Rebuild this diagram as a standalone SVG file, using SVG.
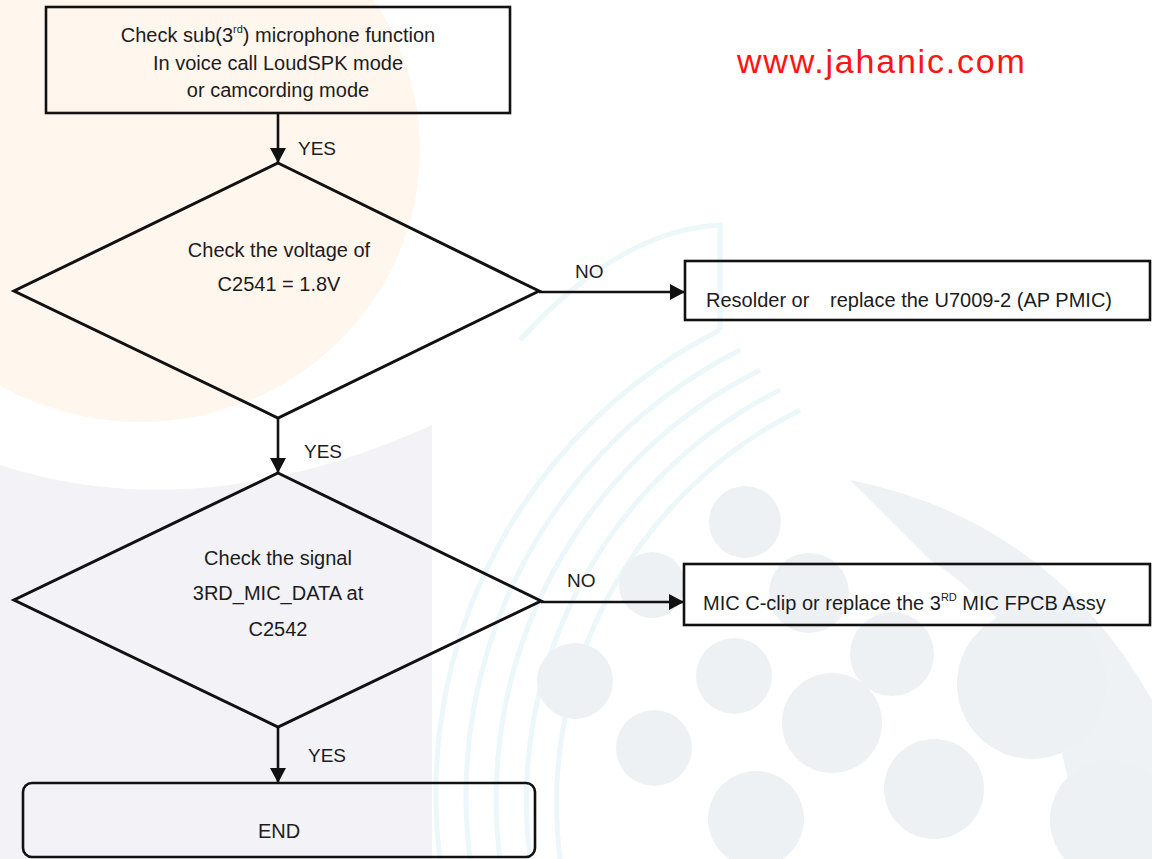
<svg xmlns="http://www.w3.org/2000/svg" width="1152" height="859" viewBox="0 0 1152 859">
  <defs>
    <marker id="arrow" markerUnits="userSpaceOnUse" markerWidth="16" markerHeight="16" refX="15" refY="8" orient="auto">
      <path d="M0,0 L15,8 L0,16 Z" fill="#111"/>
    </marker>
    <style>
      .node { fill: none; stroke: #111; stroke-width: 2.6; }
      .diamond { fill: none; stroke: #111; stroke-width: 3; stroke-linejoin: miter; }
      .conn { fill: none; stroke: #111; stroke-width: 2.6; }
      .t { font-family: "Liberation Sans", Arial, sans-serif; font-size: 20px; fill: #1c1c1c; }
      .c { text-anchor: middle; }
      .lbl { font-family: "Liberation Sans", Arial, sans-serif; font-size: 19px; fill: #1c1c1c; }
      .sup { font-size: 11px; }
      .wm { font-family: "Liberation Sans", Arial, sans-serif; font-size: 34px; fill: #ff1414; letter-spacing: 1.8px; }
      .arc { fill: none; stroke: #ecf7fa; stroke-width: 5; }
      .dot { fill: #edf1f4; }
    </style>
  </defs>

  <rect width="1152" height="859" fill="#ffffff"/>

  <g id="background">
    <ellipse cx="140" cy="150" rx="280" ry="272" fill="#fff6ee"/>
    <path d="M0,465 Q200,530 432,425 L432,859 L0,859 Z" fill="#f2f2f7"/>
    <g>
      <path class="arc" d="M440,859 A520,520 0 0 1 720,330"/>
      <path class="arc" d="M470,859 A500,500 0 0 1 740,350"/>
      <path class="arc" d="M500,859 A480,480 0 0 1 760,370"/>
      <path class="arc" d="M530,859 A460,460 0 0 1 780,390"/>
      <path class="arc" d="M560,859 A440,440 0 0 1 800,410"/>
      <path class="arc" d="M520,340 Q620,230 720,225 L720,330"/>
    </g>
    <path d="M850,480 Q1050,520 1152,700 L1152,859 L1080,859 Q1060,640 930,560 Z" fill="#eef2f5"/>
    <circle class="dot" cx="745" cy="522" r="36"/>
    <circle class="dot" cx="652" cy="585" r="33"/>
    <circle class="dot" cx="809" cy="593" r="40"/>
    <circle class="dot" cx="575" cy="681" r="38"/>
    <circle class="dot" cx="734" cy="676" r="38"/>
    <circle class="dot" cx="892" cy="654" r="42"/>
    <circle class="dot" cx="832" cy="723" r="50"/>
    <circle class="dot" cx="654" cy="748" r="38"/>
    <circle class="dot" cx="934" cy="789" r="50"/>
    <circle class="dot" cx="756" cy="819" r="48"/>
    <circle class="dot" cx="1032" cy="684" r="75"/>
    <circle class="dot" cx="1110" cy="820" r="60"/>
  </g>

  <text class="wm" x="737" y="73">www.jahanic.com</text>

  <g id="connectors">
    <line class="conn" x1="278" y1="113" x2="278" y2="163" marker-end="url(#arrow)"/>
    <line class="conn" x1="278" y1="418" x2="278" y2="473" marker-end="url(#arrow)"/>
    <line class="conn" x1="278" y1="727" x2="278" y2="783" marker-end="url(#arrow)"/>
    <line class="conn" x1="539" y1="292" x2="685" y2="292" marker-end="url(#arrow)"/>
    <line class="conn" x1="541" y1="602" x2="684" y2="602" marker-end="url(#arrow)"/>
    <text class="lbl" x="298" y="155">YES</text>
    <text class="lbl" x="304" y="458">YES</text>
    <text class="lbl" x="308" y="762">YES</text>
    <text class="lbl" x="575" y="278">NO</text>
    <text class="lbl" x="567" y="587">NO</text>
  </g>

  <g id="start">
    <rect class="node" x="46" y="7" width="464" height="106"/>
    <text class="t c" x="278" y="42">Check sub(3<tspan class="sup" dy="-9">rd</tspan><tspan dy="9">) microphone function</tspan></text>
    <text class="t c" x="278" y="70">In voice call LoudSPK mode</text>
    <text class="t c" x="278" y="97">or camcording mode</text>
  </g>

  <g id="check-voltage">
    <polygon class="diamond" points="278,163 539,291 278,418 14,291"/>
    <text class="t c" x="279" y="257">Check the voltage of</text>
    <text class="t c" x="279" y="291">C2541 = 1.8V</text>
  </g>

  <g id="resolder">
    <rect class="node" x="685" y="261" width="465" height="59"/>
    <text class="t" y="307"><tspan x="706">Resolder or</tspan><tspan x="830">replace the U7009-2 (AP PMIC)</tspan></text>
  </g>

  <g id="check-signal">
    <polygon class="diamond" points="278,473 541,601 278,727 14,600"/>
    <text class="t c" x="278" y="565">Check the signal</text>
    <text class="t c" x="278" y="600">3RD_MIC_DATA at</text>
    <text class="t c" x="278" y="636">C2542</text>
  </g>

  <g id="mic-clip">
    <rect class="node" x="684" y="564" width="466" height="61"/>
    <text class="t" x="703" y="610">MIC C-clip or replace the 3<tspan class="sup" dy="-9">RD</tspan><tspan dy="9"> MIC FPCB Assy</tspan></text>
  </g>

  <g id="end">
    <rect class="node" x="23" y="783" width="512" height="74" rx="9" ry="9"/>
    <text class="t c" x="279" y="838">END</text>
  </g>
</svg>
